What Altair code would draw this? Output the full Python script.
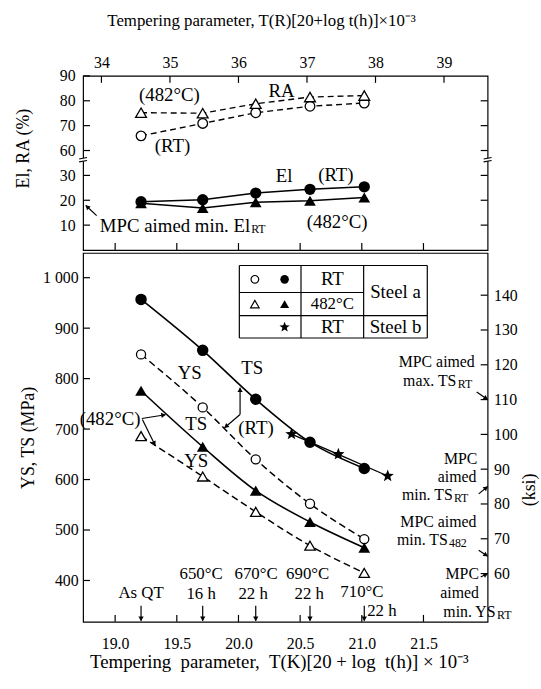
import math
import altair as alt
import pandas as pd

FONT = "'Liberation Serif', 'Times New Roman', Times, serif"

# ---------------- data ----------------
param_k = [19.21, 19.71, 20.14, 20.58, 21.02]      # tempering parameter T(K)[20+log t]x10^-3
ra_rt   = [65.9, 70.9, 75.2, 77.8, 79.1]            # RA (%), RT
ra_482  = [75.2, 75.0, 78.8, 81.5, 82.1]            # RA (%), 482C
el_rt   = [19.4, 20.2, 22.9, 24.4, 25.4]            # El (%), RT
el_482  = [18.8, 16.9, 19.2, 19.8, 21.1]            # El (%), 482C

ts_rt  = [957, 856, 759, 674, 622]                  # MPa
ys_rt  = [848, 743, 640, 552, 482]
ts_482 = [776, 665, 578, 516, 465]
ys_482 = [686, 606, 536, 469, 415]

param_k_b = [20.43, 20.81, 21.21]                   # steel b
ts_rt_b   = [690, 650, 607]

k_ticks   = [19.0, 19.5, 20.0, 20.5, 21.0, 21.5]
r_ticks   = [34, 35, 36, 37, 38, 39]
pct_ticks = [10, 20, 30, 60, 70, 80, 90]
pct_ticks_right = [10, 20, 30, 60, 70, 80]
mpa_ticks = [400, 500, 600, 700, 800, 900, 1000]
ksi_ticks = [60, 70, 80, 90, 100, 110, 120, 130, 140]

# ---------------- geometry ----------------
W, H1, H2 = 409, 176, 373
TICK = 7
XDOM = [18.74, 22.02]
K2R = 1.8
MPA_PER_KSI = 6.895
YUP = [0, 70]
YLO = [318, 1049]
BRK = "datum.v < 45 ? datum.v : datum.v - 20"      # broken El/RA axis
PX_K = W / (XDOM[1] - XDOM[0])
PX_UP = H1 / (YUP[1] - YUP[0])
PX_MPA = H2 / (YLO[1] - YLO[0])
PX_KSI = PX_MPA * MPA_PER_KSI

SX = alt.Scale(domain=XDOM, nice=False, zero=False)
SR = alt.Scale(domain=[XDOM[0] * K2R, XDOM[1] * K2R], nice=False, zero=False)
SU = alt.Scale(domain=YUP, nice=False, zero=False)
SM = alt.Scale(domain=YLO, nice=False, zero=False)
SK = alt.Scale(domain=[YLO[0] / MPA_PER_KSI, YLO[1] / MPA_PER_KSI], nice=False, zero=False)

cax = dict(ticks=False, domain=False, grid=False, labelFont=FONT, labelFontSize=16,
           labelColor="black", titleFont=FONT,
           titleFontWeight="normal", titleColor="black")

up_pos = [v if v < 45 else v - 20 for v in pct_ticks]
AX_UP = alt.Axis(values=up_pos,
                 labelExpr="datum.value > 36 ? format(datum.value + 20, 'd') : datum.label",
                 labelPadding=8, title="El, RA (%)", titleFontSize=18, titleAngle=270,
                 titleX=-60, titleY=73, titleBaseline="middle", titleAlign="center", **cax)
AX_R = alt.Axis(orient="top", values=r_ticks, format="d", labelPadding=6,
                title="Tempering parameter, T(R)[20+log t(h)]×10⁻³", titleFontSize=17,
                titleX=180, titleY=-56, titleBaseline="middle", titleAlign="center", **cax)
AX_K = alt.Axis(orient="bottom", values=k_ticks, format=".1f", labelPadding=14,
                title="Tempering\u00a0\u00a0parameter,\u00a0\u00a0T(K)[20 + log\u00a0\u00a0t(h)] × 10⁻³",
                titleFontSize=19,
                titleX=198, titleY=40, titleBaseline="middle", titleAlign="center", **cax)
AX_M = alt.Axis(values=mpa_ticks, labelExpr="datum.value == 1000 ? '1 000' : datum.label",
                labelPadding=5, title="YS, TS (MPa)", titleFontSize=18, titleAngle=270,
                titleX=-55, titleBaseline="middle", titleAlign="center", **cax)
AX_KS = alt.Axis(orient="right", values=ksi_ticks, format="d", labelPadding=6,
                 title="(ksi)", titleFontSize=18, titleAngle=270, titleX=42, titleY=239,
                 titleBaseline="middle", titleAlign="center", **cax)


def XU(f="x"):
    return alt.X(f, type="quantitative", scale=SX, axis=None)


def XL(f="x"):
    return alt.X(f, type="quantitative", scale=SX, axis=AX_K)


def YU(f="y"):
    return alt.Y(f, type="quantitative", scale=SU, axis=AX_UP)


def YM(f="y"):
    return alt.Y(f, type="quantitative", scale=SM, axis=AX_M)


def YK(f="y"):
    return alt.Y(f, type="quantitative", scale=SK, axis=AX_KS)


STAR = "M" + " L".join(
    f"{(1.0 if i % 2 == 0 else 0.42) * math.cos(math.radians(-90 + 36 * i)):.3f},"
    f"{(1.0 if i % 2 == 0 else 0.42) * math.sin(math.radians(-90 + 36 * i)):.3f}"
    for i in range(10)) + " Z"


def series(xs, vs, xenc, yenc, shape, filled, size, expr="datum.v", dash=None,
           width=1.5, interp="linear"):
    base = alt.Chart(pd.DataFrame({"x": xs, "v": vs})).transform_calculate(y=expr)
    kw = dict(color="black", strokeWidth=width, interpolate=interp)
    if dash:
        kw["strokeDash"] = dash
    line = base.mark_line(**kw).encode(x=xenc("x"), y=yenc("y"))
    if filled:
        pm = base.mark_point(shape=shape, filled=True, color="black", size=size, opacity=1)
    else:
        pm = base.mark_point(shape=shape, filled=True, fill="white", stroke="black",
                             strokeWidth=1.3, size=size, opacity=1)
    return line, pm.encode(x=xenc("x"), y=yenc("y"))


def points(rows, xenc, yenc, shape, filled, size):
    d = pd.DataFrame(rows, columns=["x", "y"])
    if filled:
        m = alt.Chart(d).mark_point(shape=shape, filled=True, color="black", size=size, opacity=1)
    else:
        m = alt.Chart(d).mark_point(shape=shape, filled=True, fill="white", stroke="black",
                                    strokeWidth=1.2, size=size, opacity=1)
    return m.encode(x=xenc("x"), y=yenc("y"))


def texts(rows, xenc, yenc, size=19, align="center", baseline="middle"):
    d = pd.DataFrame(rows, columns=["label", "x", "y"])
    return alt.Chart(d).mark_text(font=FONT, fontSize=size, align=align, baseline=baseline,
                                  color="black").encode(x=xenc("x"), y=yenc("y"), text="label:N")


def arrows(rows, xenc, yenc, py_unit, head=28, width=1.2):
    lines, heads = [], []
    for (x1, y1, x2, y2) in rows:
        dxs = (x2 - x1) * PX_K
        dys = -(y2 - y1) * py_unit
        L = math.hypot(dxs, dys)
        ang = math.degrees(math.atan2(dxs, -dys)) % 360
        t = 2.0 / L
        lines.append((x1, y1, x2, y2))
        heads.append((x2 - (x2 - x1) * t, y2 - (y2 - y1) * t, ang))
    dl = pd.DataFrame(lines, columns=["x", "y", "x2", "y2"])
    dh = pd.DataFrame(heads, columns=["x", "y", "ang"])
    ln = alt.Chart(dl).mark_rule(color="black", strokeWidth=width).encode(
        x=xenc("x"), y=yenc("y"), x2="x2:Q", y2="y2:Q")
    hd = alt.Chart(dh).mark_point(shape="triangle-up", filled=True, color="black",
                                  size=head, opacity=1).encode(
        x=xenc("x"), y=yenc("y"), angle=alt.Angle("ang:Q", scale=None))
    return [ln, hd]


def hticks(vals, yenc, x0, x1, expr="datum.v"):
    return alt.Chart(pd.DataFrame({"v": vals})).transform_calculate(y=expr).mark_rule(
        color="black", strokeWidth=1.2).encode(x=alt.value(x0), x2=alt.value(x1), y=yenc("y"))


def vticks(vals, xenc, y0, y1):
    return alt.Chart(pd.DataFrame({"x": vals})).mark_rule(
        color="black", strokeWidth=1.2).encode(x=xenc("x"), y=alt.value(y0), y2=alt.value(y1))


# ======================= upper panel (El, RA) =======================
l1, p1 = series(param_k, ra_rt, XU, YU, "circle", False, 95, BRK, dash=[6, 4], width=1.4)
l2, p2 = series(param_k, ra_482, XU, YU, "triangle-up", False, 120, BRK, dash=[6, 4], width=1.4)
l3, p3 = series(param_k, el_rt, XU, YU, "circle", True, 130, BRK, width=1.6)
l4, p4 = series(param_k, el_482, XU, YU, "triangle-up", True, 140, BRK, width=1.6)

up_texts = [("(482°C)", 19.44, 62.2), ("(RT)", 19.465, 41.6), ("RA", 20.35, 63.8),
            ("El", 20.37, 29.7), ("(RT)", 20.79, 30.3), ("(482°C)", 20.80, 11.4)]
up_left = [("MPC aimed min. El", 18.876, 9.8)]
up_sub = [("RT", 20.103, 8.6)]
up_arrows = [(18.85, 13.8, 18.762, 17.9)]

brk_rows = pd.DataFrame({"y": [35.7], "y2": [36.9]})
brk_lines = pd.DataFrame({"y": [35.4, 36.6], "y2": [36.0, 37.2]})
breaks = []
for xc in (0, W):
    breaks.append(alt.Chart(brk_rows).mark_rect(color="white").encode(
        x=alt.value(xc - 2), x2=alt.value(xc + 2), y=YU("y"), y2="y2:Q"))
    breaks.append(alt.Chart(brk_lines).mark_rule(color="black", strokeWidth=1.2).encode(
        x=alt.value(xc - 4), x2=alt.value(xc + 4), y=YU("y"), y2="y2:Q"))

upper_inner = alt.layer(
    l1, l2, l3, l4,
    hticks(pct_ticks, YU, 0, TICK, BRK),
    hticks(pct_ticks_right, YU, W - TICK, W, BRK),
    vticks(k_ticks, XU, H1 - TICK, H1),
    *breaks,
    p1, p2, p3, p4,
    texts(up_texts, XU, YU),
    texts(up_left, XU, YU, align="left"),
    texts(up_sub, XU, YU, size=12, align="left"),
    *arrows(up_arrows, XU, YU, PX_UP),
)
rank = alt.Chart(pd.DataFrame({"r": r_ticks})).mark_rule(color="black", strokeWidth=1.2).encode(
    x=alt.X("r:Q", scale=SR, axis=AX_R), y=alt.value(0), y2=alt.value(TICK))
upper = alt.layer(upper_inner, rank).resolve_scale(x="independent").properties(width=W, height=H1)

# ======================= lower panel (YS, TS) =======================
m1, q1 = series(param_k, ts_rt, XL, YM, "circle", True, 135, width=1.6, interp="monotone")
m2, q2 = series(param_k, ys_rt, XL, YM, "circle", False, 85, dash=[7, 4], width=1.5, interp="monotone")
m3, q3 = series(param_k, ts_482, XL, YM, "triangle-up", True, 140, width=1.6, interp="monotone")
m4, q4 = series(param_k, ys_482, XL, YM, "triangle-up", False, 110, dash=[7, 4], width=1.5, interp="monotone")
m5, q5 = series(param_k_b, ts_rt_b, XL, YM, STAR, True, 170, width=1.3, interp="monotone")

low_center = [("YS", 19.604, 810.5), ("TS", 20.111, 820.3), ("TS", 19.658, 709.2),
              ("YS", 19.658, 637.5)]
low_temps = [("As QT", 19.21, 375.7), ("650°C", 19.697, 412.1), ("16 h", 19.697, 372.9),
             ("670°C", 20.143, 412.1), ("22 h", 20.119, 372.9), ("690°C", 20.561, 412.1),
             ("22 h", 20.574, 372.9), ("710°C", 21.001, 378.0)]
low_temps_left = [("22 h", 21.044, 340.2)]
low_left = [("(RT)", 19.999, 702.7)]
low_right_big = [("(482°C)", 19.205, 719.0)]
low_right = [("MPC aimed", 21.916, 831.9), ("max. TS", 21.767, 794.8),
             ("MPC", 21.937, 640.0), ("aimed", 21.929, 604.8), ("min. TS", 21.737, 569.5),
             ("MPC aimed", 21.929, 516.5), ("min. TS", 21.697, 479.3),
             ("MPC", 21.950, 412.7), ("aimed", 21.950, 375.5), ("min. YS", 22.084, 338.3)]
low_sub = [("RT", 21.779, 789.0), ("RT", 21.747, 563.7), ("482", 21.707, 473.5),
           ("RT", 22.096, 332.4)]
low_arrows = [(20.013, 728.8, 20.013, 782.0), (20.013, 728.8, 19.887, 702.7),
              (19.216, 721.0, 19.408, 728.4), (19.221, 719.0, 19.325, 667.5)]
low_arrows += [(xv, 350.0, xv, 320.0) for xv in param_k]
ksi_arrows = [(21.932, 112.2, 22.02, 110.0), (21.948, 82.9, 22.02, 85.0),
              (21.948, 66.7, 22.02, 65.0), (21.964, 59.0, 22.02, 60.0)]

# legend table
tab_h = pd.DataFrame([(20.007, 21.531, 1024.1), (20.007, 21.531, 880.5),
                      (20.007, 21.531, 924.8), (20.007, 21.015, 970.6)], columns=["x", "x2", "y"])
tab_v = pd.DataFrame([(20.007, 880.5, 1024.1), (20.507, 880.5, 1024.1),
                      (21.015, 880.5, 1024.1), (21.531, 880.5, 1024.1)], columns=["x", "y", "y2"])
tab_lines = [
    alt.Chart(tab_h).mark_rule(color="black", strokeWidth=1.2).encode(x=XL("x"), x2="x2:Q", y=YM("y")),
    alt.Chart(tab_v).mark_rule(color="black", strokeWidth=1.2).encode(x=XL("x"), y=YM("y"), y2="y2:Q"),
]
tab_syms = [
    points([(20.133, 996.7)], XL, YM, "circle", False, 60),
    points([(20.374, 996.7)], XL, YM, "circle", True, 75),
    points([(20.133, 947.7)], XL, YM, "triangle-up", False, 75),
    points([(20.374, 947.7)], XL, YM, "triangle-up", True, 85),
    points([(20.374, 902.0)], XL, YM, STAR, True, 120),
]
tab_text = [texts([("RT", 20.761, 996.7), ("RT", 20.761, 902.0), ("Steel a", 21.273, 972.0),
                   ("Steel b", 21.273, 902.0)], XL, YM),
            texts([("482°C", 20.761, 947.7)], XL, YM, size=17)]

lower_inner = alt.layer(
    m1, m2, m3, m4, m5,
    hticks(mpa_ticks, YM, 0, TICK),
    vticks(k_ticks, XL, H2 - TICK, H2),
    *tab_lines,
    q1, q2, q3, q4, q5,
    *tab_syms, *tab_text,
    texts(low_center, XL, YM),
    texts(low_temps, XL, YM, size=17),
    texts(low_temps_left, XL, YM, size=17, align="left"),
    texts(low_left, XL, YM, align="left"),
    texts(low_right_big, XL, YM, align="right"),
    texts(low_right, XL, YM, size=16, align="right"),
    texts(low_sub, XL, YM, size=12, align="left"),
    *arrows(low_arrows, XL, YM, PX_MPA),
)
ksi_layer = alt.layer(
    hticks(ksi_ticks, YK, W - TICK, W),
    *arrows(ksi_arrows, XL, YK, PX_KSI),
)
lower = alt.layer(lower_inner, ksi_layer).resolve_scale(y="independent").properties(width=W, height=H2)

chart = (
    alt.vconcat(upper, lower, spacing=0)
    .properties(padding={"left": 14, "top": 7, "right": 2, "bottom": 2})
    .configure_view(stroke="black", strokeWidth=1.2)
)

chart.save("out.html", embed_options={"renderer": "svg", "actions": False})
